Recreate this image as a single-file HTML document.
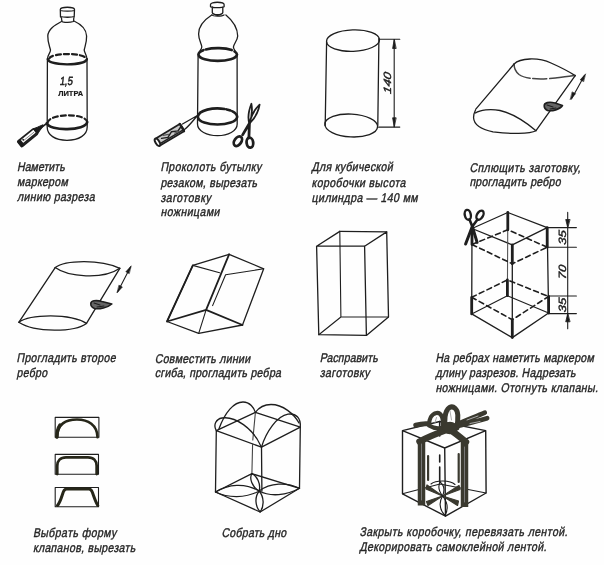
<!DOCTYPE html>
<html><head><meta charset="utf-8">
<style>
html,body{margin:0;padding:0;background:#fff;}
body{width:604px;height:565px;overflow:hidden;}
svg{display:block;filter:blur(0.35px);}
.t text{font-family:"Liberation Sans",sans-serif;font-size:12.6px;fill:#262626;stroke:#262626;stroke-width:0.4px;}
.d *{fill:none;stroke:#1e1e1e;stroke-width:1.3;stroke-linecap:round;stroke-linejoin:round;}
.d .f{fill:#1a1a1a;}
.d .rb *{stroke:#3a392f;}
.d .rb .f{fill:#3a392f;}
.d .th{stroke-width:2.6;}
.d .tn{stroke-width:1.1;}
.d .ds{stroke-dasharray:4 2.5;}
.d text{font-family:"Liberation Sans",sans-serif;font-style:italic;fill:#1a1a1a;stroke:#1a1a1a;stroke-width:0.4;}
</style></head>
<body>
<svg width="604" height="565" viewBox="0 0 604 565">
<rect width="604" height="565" fill="#fefefe"/>
<g class="t">
<text transform="translate(17,171.4) skewX(-11) scale(0.84,1)" textLength="56.8" lengthAdjust="spacing">Наметить</text>
<text transform="translate(17,185.8) skewX(-11) scale(0.84,1)" textLength="60.4" lengthAdjust="spacing">маркером</text>
<text transform="translate(17,200.7) skewX(-11) scale(0.84,1)" textLength="92.3" lengthAdjust="spacing">линию разреза</text>
<text transform="translate(160.4,171) skewX(-11) scale(0.84,1)" textLength="120.1" lengthAdjust="spacing">Проколоть бутылку</text>
<text transform="translate(160.4,186.7) skewX(-11) scale(0.84,1)" textLength="115.1" lengthAdjust="spacing">резаком, вырезать</text>
<text transform="translate(160.4,201.8) skewX(-11) scale(0.84,1)" textLength="59.9" lengthAdjust="spacing">заготовку</text>
<text transform="translate(160.4,216.3) skewX(-11) scale(0.84,1)" textLength="70.4" lengthAdjust="spacing">ножницами</text>
<text transform="translate(311.6,171) skewX(-11) scale(0.84,1)" textLength="96.5" lengthAdjust="spacing">Для кубической</text>
<text transform="translate(311.6,186.6) skewX(-11) scale(0.84,1)" textLength="111.7" lengthAdjust="spacing">коробочки высота</text>
<text transform="translate(311.6,201.8) skewX(-11) scale(0.84,1)" textLength="126.2" lengthAdjust="spacing">цилиндра — 140 мм</text>
<text transform="translate(469.4,171.8) skewX(-11) scale(0.84,1)" textLength="132.1" lengthAdjust="spacing">Сплющить заготовку,</text>
<text transform="translate(469.4,186) skewX(-11) scale(0.84,1)" textLength="108.5" lengthAdjust="spacing">прогладить ребро</text>
<text transform="translate(16.5,362) skewX(-11) scale(0.84,1)" textLength="117.9" lengthAdjust="spacing">Прогладить второе</text>
<text transform="translate(16.5,377) skewX(-11) scale(0.84,1)" textLength="36.4" lengthAdjust="spacing">ребро</text>
<text transform="translate(154.8,362.6) skewX(-11) scale(0.84,1)" textLength="113.6" lengthAdjust="spacing">Совместить линии</text>
<text transform="translate(154.8,377.2) skewX(-11) scale(0.84,1)" textLength="150.2" lengthAdjust="spacing">сгиба, прогладить ребра</text>
<text transform="translate(319.7,362) skewX(-11) scale(0.84,1)" textLength="69.2" lengthAdjust="spacing">Расправить</text>
<text transform="translate(319.7,376.5) skewX(-11) scale(0.84,1)" textLength="59.4" lengthAdjust="spacing">заготовку</text>
<text transform="translate(435.4,362) skewX(-11) scale(0.84,1)" textLength="188.5" lengthAdjust="spacing">На ребрах наметить маркером</text>
<text transform="translate(435.4,376.6) skewX(-11) scale(0.84,1)" textLength="166.9" lengthAdjust="spacing">длину разрезов. Надрезать</text>
<text transform="translate(435.4,392.2) skewX(-11) scale(0.84,1)" textLength="193.5" lengthAdjust="spacing">ножницами. Отогнуть клапаны.</text>
<text transform="translate(32.9,537.4) skewX(-11) scale(0.84,1)" textLength="99.4" lengthAdjust="spacing">Выбрать форму</text>
<text transform="translate(32.9,551.7) skewX(-11) scale(0.84,1)" textLength="121.8" lengthAdjust="spacing">клапанов, вырезать</text>
<text transform="translate(221.5,536.5) skewX(-11) scale(0.84,1)" textLength="76.9" lengthAdjust="spacing">Собрать дно</text>
<text transform="translate(359.5,535.5) skewX(-11) scale(0.84,1)" textLength="247.5" lengthAdjust="spacing">Закрыть коробочку, перевязать лентой.</text>
<text transform="translate(359.5,550.8) skewX(-11) scale(0.84,1)" textLength="222.6" lengthAdjust="spacing">Декорировать самоклейной лентой.</text>
</g>
<g class="d">
<!-- P1 bottle -->
<path d="M61.5,21.5 C55,25 48,29 47.8,36 C47.6,42 49.5,46 50.5,50 C50.5,53 47.6,55 47.4,59 L47.2,127 C47.2,135 55,140.3 67,140.3 C79,140.3 87.2,135 87.2,127 L87,59 C86.8,55 84.3,52.5 84.2,50 C85,46 86.8,42 86.6,36 C86.3,29 80.5,24 74,21"/>
<path d="M60.5,17 L60.3,9.5 C60.5,6.5 74.3,6.5 74.5,9.5 L74.2,17 M60.5,10.5 C63,11.3 72,11.3 74.4,10.5 M60.5,16.5 C63,17.5 72,17.5 74.2,16.5 M61.5,18 C61.5,20 62,21.5 62.5,21.8 C66,22.5 70,22.5 73.5,21.5 L73.8,18"/>
<path d="M49.1,58.7 C51,52.5 84,52.5 86.4,58.7" style="stroke-width:2.2;stroke-dasharray:5 3"/>
<path d="M47.7,59.1 C49,66 85,66 86.9,59.1" style="stroke-width:2.3"/>
<path class="ds" d="M47.5,123 C49,113 86,113 87.2,122" style="stroke-width:2.1;stroke-dasharray:5 3"/>
<path class="th" d="M46.8,123.2 C49,131.5 86,131 87.2,122"/>
<text transform="translate(59.4,85.2) skewX(-8)" style="font-size:11.8px;font-style:normal;stroke-width:0.55" textLength="13" lengthAdjust="spacingAndGlyphs">1,5</text>
<text transform="translate(58.2,95.5)" style="font-size:7.6px;font-weight:bold;font-style:normal;stroke-width:0.2" textLength="25" lengthAdjust="spacingAndGlyphs">ЛИТРА</text>
<path d="M46.5,123.6 L38.5,129.5" style="stroke-width:1.8"/>
<g transform="translate(28.6,136.9) rotate(-39)">
<rect x="-11.5" y="-3.3" width="20.5" height="6.6" rx="0.8" style="stroke-width:1.8;fill:#fff"/>
<path d="M-10.5,2 L8,2" style="stroke-width:1.6"/>
<path d="M-6,-0.3 L7,-0.3" style="stroke:#777;stroke-width:0.8"/>
<path class="f" d="M-11.5,-3.3 L-8.5,-3.3 L-8.5,3.3 L-11.5,3.3 Z" style="stroke-width:1"/>
<circle cx="-6" cy="-1.2" r="0.9" class="f" style="stroke:none"/>
<path class="f" d="M9,-3.2 L13,-2 L18.5,-0.5 L18.5,0.5 L13,2 L9,3.2 Z" style="stroke-width:1"/>
</g>

<!-- P2 bottle -->
<path d="M211.7,15 C204,20 198.5,27 198.6,34 C198.6,40 201.8,44 201.8,47 C201.5,50 198.1,52 198.1,56 L197.5,124 C197.5,131 207,135.7 217.5,135.7 C228,135.7 237.2,131 237.2,124 L237.1,56 C237,52 233.5,50 233.4,47 C233.6,44 237.7,40 237.7,36 C237.5,28 232,20 225.9,15"/>
<path d="M212.3,7 L212.3,12.5 C213,15.5 222,15.5 222.8,12.5 L222.8,7 M210.5,4.5 C210.5,1.5 224.1,1.5 224.1,4.5 L224.1,6.8 C222,8 212.5,8 210.5,6.8 Z M212,15 C213,16.5 222,16.5 224,15"/>
<path class="th" d="M198.4,54.5 C199.5,46 236,46 237,54.5 C236,63 199.5,63 198.4,54.5" style="stroke-dasharray:7 2.5 26 3 200"/>
<path class="th" d="M197.8,116.8 C199,105.7 236,105.7 237.2,116.8 C236,127.1 199,127.1 197.8,116.8" style="stroke-dasharray:30 2 4 2 200"/>
<!-- knife -->
<path d="M197.4,115.5 L182.5,124 M197.4,115.5 C193,121 189,126 184.5,129.5" style="stroke-width:1.3"/>
<g transform="translate(169.9,134.8) rotate(-31)">
<rect x="-14.5" y="-4.2" width="29" height="8.4" rx="1" style="stroke-width:1.8;fill:#c8c8c8"/>
<path d="M-12,2.6 L13,2.6 M-9,-1.2 L-3,1.2 L3,-1.8 L9,0.8 L13,-1" style="stroke-width:1.4"/>
<path d="M-6,-3 L-1,-1 M5,1 L10,2" style="stroke-width:1.2;stroke:#555"/>
<ellipse cx="-14.5" cy="0" rx="1.9" ry="4.2" style="fill:#fff;stroke-width:2"/>
<path d="M14,-4.2 L14,4.2" style="stroke-width:2.2"/>
</g>
<!-- scissors -->
<path d="M249.4,123.5 C247.5,118 249,110 251.4,103.8 C252.5,110 251.5,118 249.4,123.5 M249.4,123.5 C251,116 255,109 259.6,104.7 C258.5,112 254,119 249.4,123.5" style="stroke-width:1.8"/>
<path d="M249.4,123.5 L242.6,134.9 M249.4,123.5 L248.9,137.8" style="stroke-width:2.8"/>
<ellipse cx="237.9" cy="141.2" rx="3.4" ry="5.3" transform="rotate(35 237.9 141.2)" style="stroke-width:2.8"/>
<ellipse cx="249.9" cy="142.7" rx="3.3" ry="5" transform="rotate(-8 249.9 142.7)" style="stroke-width:2.8"/>
<!-- P3 cylinder -->
<ellipse cx="353" cy="40.6" rx="26.5" ry="10.7" transform="rotate(-2 353 40.6)"/>
<path d="M326.6,42 L325.2,125.5 M378.9,38.5 L377.8,125.5"/>
<ellipse cx="351.2" cy="125.5" rx="26.4" ry="11.4" transform="rotate(3 351.2 125.5)"/>
<path class="tn" d="M379.3,39.3 L399.8,39.3 M378.5,127.1 L399.8,127.1 M394.2,40 L394.2,126.5"/>
<path class="f" style="stroke-width:0.8" d="M394.2,39.5 L392.6,48.5 L395.8,48.5 Z M394.2,126.8 L392.6,117.8 L395.8,117.8 Z"/>
<text transform="translate(391.4,94.2) rotate(-90) skewX(-12)" style="font-size:10.5px" textLength="21.4" lengthAdjust="spacingAndGlyphs">140</text>

<!-- P4 flattened -->
<path d="M514.1,64 C520,58 538,57 551,63 C560,67 568,71 575.2,75.6"/>
<path d="M514.1,64 C514,69 516,72 519,74.5 C525,79 540,80 555.4,78 C563,77 570,76 575.2,75.6" style="stroke:#444;stroke-width:1.5;stroke-dasharray:24 2.5 14 3 100"/>
<path d="M514.1,64 L475.8,109.2 M575.2,75.6 L536,130.7"/>
<path d="M475.5,110 C474,113 473.5,116 473.6,118 C474,125 480,129 493,131.8 C510,134 530,134 536,130.7 C528,124 515,114 500,110.5 C490,108.5 480,110 475.5,113"/>
<path class="tn" d="M584.5,75.5 L571.5,99"/>
<path class="f" style="stroke-width:0.6" d="M585.4,74.1 L580.2,79.8 L583.4,81.5 Z M570.4,99.4 L575.6,93.7 L572.4,92 Z"/>
<path d="M544.2,106 C544,102.5 549,101.5 555,103 L562.5,105.5 C560,109.5 552,111.5 547.5,110.5 C545.5,109.5 544.2,108 544.2,106 Z" style="fill:#666;stroke-width:1.6"/>
<path d="M547,105 L553,107 M550,109 L556,108" style="stroke-width:1.1"/>

<!-- P5 flattened 2 -->
<path d="M55.2,267.6 C65,260 100,259 119.8,268.3"/>
<path d="M55.2,267.6 C68,277 103,280 119.8,268.3"/>
<path d="M55.2,267.6 L18.8,322.3 M119.8,268.3 L86.5,323.4"/>
<path d="M18.8,322.3 C30,314 70,313 86.5,323.4 C75,332 35,333 18.8,322.3 Z"/>
<path class="tn" d="M130.5,267 L117.7,291.8"/>
<path class="f" style="stroke-width:0.6" d="M131,266.1 L125.8,271.8 L129,273.5 Z M117.2,292.7 L122.4,287 L119.2,285.3 Z"/>
<path d="M90.8,304 C90.5,300.5 96,299.8 102,301.5 L111.8,304 C108,307.5 99,309.5 94.5,308.5 C92,307.5 90.8,306 90.8,304 Z" style="fill:#666;stroke-width:1.6"/>
<path d="M94,303 L100,305 M97,307 L104,306" style="stroke-width:1.1"/>

<!-- P6 rhombus box -->
<path d="M192.8,265.4 L229.1,254.3 L263.7,268.8 L242.5,325 L198.7,333.4 L167,321.5 Z"/>
<path d="M229.1,254.3 L206.1,309.9 L167,321.5 M206.1,309.9 L242.5,325 M192.8,265.4 L167,321.5" style="stroke-width:1.8"/>
<path class="tn" d="M192.8,265.4 L219.6,272.8 M263.7,268.8 L225.6,274.8 L212.6,305.6 M206.1,309.9 L198.7,333.4"/>

<!-- P7 box -->
<g transform="translate(0,0.8)">
<path d="M316.6,245.4 L364.6,245.4 L366.4,334.6 L318.8,333.9 Z M364.6,245.4 L386.7,231.1 L388.5,316.2 L366.4,334.6 M316.6,245.4 L339.8,230.6"/>
<path class="tn" d="M339.8,230.6 L386.7,231.1" style="stroke-width:1.3"/>
<path class="tn" d="M339.8,230.6 L340.9,316.2 L318.8,333.9 M340.9,316.2 L388.5,316.2"/>
</g>
<!-- P8 box with dims -->
<path d="M507.8,212.5 L472,228.5 L512.3,244.9 L547.2,227.6 Z M472,228.5 L471.7,313.9 L512.3,337.6 L548.6,313 L547.2,227.6 M512.3,244.9 L512.3,337.6"/>
<path class="tn" d="M507.8,212.5 L507.4,295.7" style="stroke:#555"/>
<path class="tn" d="M471.7,313.9 L507.4,295.7 L548.6,313"/>
<path class="ds" d="M472,244.5 L512.3,263.8 L547.2,247.2 M472,244.5 L507.8,229.8 L547.2,247.2 M471.7,297.3 L512.3,319.7 L548.6,296.5 M471.7,297.3 L507.4,279.9 L548.6,296.5" style="stroke-dasharray:5 3.5;stroke-width:1.6"/>
<path class="th" d="M472,228.5 L472,244.5 M512.3,244.9 L512.3,263.8 M547.2,227.6 L547.2,247.2 M507.8,212.5 L507.8,229.8 M471.7,297.3 L471.7,313.9 M512.3,319.7 L512.3,337.6 M548.6,296.5 L548.6,313 M507.4,279.9 L507.4,295.7" style="stroke-width:2.8"/>
<path class="tn" d="M547.5,227.6 L576.4,227.6 M547.5,247.2 L576.4,247.2 M548.6,296 L576.4,296 M548.6,313.6 L576.4,313.6 M567.7,212.4 L567.7,328.8"/>
<path class="f" style="stroke-width:0.8" d="M567.7,227.6 L565.7,219.5 L569.7,219.5 Z M567.7,313.6 L565.7,321.8 L569.7,321.8 Z"/>
<text transform="translate(566,245) rotate(-90) skewX(-5)" style="font-size:10.5px" textLength="14.5" lengthAdjust="spacingAndGlyphs">35</text>
<text transform="translate(566,279.5) rotate(-90) skewX(-5)" style="font-size:10.5px" textLength="14.5" lengthAdjust="spacingAndGlyphs">70</text>
<text transform="translate(566,312.5) rotate(-90) skewX(-5)" style="font-size:10.5px" textLength="14.5" lengthAdjust="spacingAndGlyphs">35</text>
<!-- small scissors -->
<ellipse cx="467.8" cy="214.8" rx="3" ry="5" transform="rotate(-12 467.8 214.8)" style="stroke-width:2.4"/>
<ellipse cx="480" cy="215.2" rx="3" ry="5" transform="rotate(30 480 215.2)" style="stroke-width:2.4"/>
<path d="M469.5,219.5 L472.3,226.5 M477.5,219.5 L472.3,226.5" style="stroke-width:2.6"/>
<path d="M472.3,226.5 L465.6,244 M472.3,226.5 L477.1,242.4" style="stroke-width:3"/>
<!-- P9 flaps -->
<path class="tn" d="M55.2,417.4 L98.9,417.4 L98.9,437.3 L55.2,437.3 Z"/>
<path d="M57.2,437.2 C57,424 66,419.5 77,419.5 C88,419.5 97.3,425 97.5,437.2" style="stroke:#262619;stroke-width:2.6"/>
<path d="M56.8,437 C57,431 58,428 60,425" style="stroke:#262619;stroke-width:3.4"/>
<path class="tn" d="M55.2,454.4 L98.5,454.4 L98.5,474.3 L55.2,474.3 Z"/>
<path d="M57.2,474 L57.2,466 C57.2,461 60.5,457.4 66,457.4 L88,457.4 C93.5,457.4 96.7,461 96.7,466 L96.7,474" style="stroke:#262619;stroke-width:2.8"/>
<path class="tn" d="M55.2,487.5 L98.5,487.5 L98.5,506.8 L55.2,506.8 Z"/>
<path d="M57.5,505.5 C61,501 62,495 63.5,491.5 C64.2,489.8 65,488.9 66.5,488.9 L89,488.9 C90.5,488.9 91.3,489.8 92,491.5 C93.5,495 95,501 97.8,505.5" style="stroke:#262619;stroke-width:3"/>

<!-- P10 box with dome -->
<path d="M216.3,430.6 L255.4,412.4 L300.3,427.2 L261.5,447.2 Z M216.3,430.6 L215.5,492 L260.1,512 L299.5,488.3 L300.3,427.2 M261.5,447.2 L261.9,491"/>
<path class="tn" d="M255.4,412.4 L252.8,440 M252.6,444 L251.9,473.7" style="stroke:#444"/>
<path d="M215.5,492 L251.9,473.7 L299.5,488.3" style="stroke-width:1.3"/>
<path d="M218.9,429 C225,412 234,402 243,402 C250,402 254,408 255.4,412.4"/>
<path d="M255.4,412.4 C260,406 266,404.5 271,404.5 C283,404.5 294,414 299,423"/>
<path d="M216.3,430.6 C213,425 216,419 222,418 C235,416 253,428 261.5,447.2"/>
<path d="M261.5,447.2 C266,432 277,416 288,414.2 C296,413 301,418 300.3,427.2"/>
<g style="stroke-width:1.4">
<path d="M259.2,491 C245,482.5 228,484 215.5,492 C228,498 245,498.5 259.2,491 Z"/>
<path d="M259.2,491 C270,482.5 287,482 299.5,488.3 C287,495.5 270,497 259.2,491 Z"/>
<path d="M259.2,491 C252,487 249,478 251.9,473.7 C257,476 261,484 259.2,491 Z"/>
<path d="M259.2,491 C254.5,497 255,506 260.1,512 C264.5,506 264,497 259.2,491 Z"/>
</g>

<!-- P11 gift -->
<path d="M402.5,430.6 L439.7,421.5 L485.7,430.6 L444.7,448 Z M402.5,430.6 L402.5,493.8 L445.5,516.2 L486.1,493 L485.7,430.6 M444.7,448 L445.5,516.2" style="stroke-width:1.4"/>
<path class="tn" d="M402.5,493.8 L440,484 L486.1,493"/>
<path class="tn" d="M439.7,421.5 L439.7,436 M439.7,455 L439.7,462 M439.7,467 L439.7,482" style="stroke-width:1.6"/>
<g class="rb">
<path d="M421.5,439 L421.5,505.5" style="stroke-width:7.5;stroke-linecap:butt"/>
<path d="M464.5,441 L464.5,507" style="stroke-width:7.5;stroke-linecap:butt"/>
<path d="M419.5,441.5 C428,437 438,433 449,429 M466,442 C460,437 455,433 449,429" style="stroke-width:6.5"/>
<path d="M415.8,425.2 C420,424 424,423.5 428,423.8" style="stroke-width:5"/>
<path d="M429,425.5 C429,419 431.5,413.8 436.5,413 C441.5,412.5 443.5,418 443,427.5 C438,429 433,428 429,425.5 Z" style="stroke-width:4.2"/>
<path d="M445.5,429 C444,421 444.5,411 449.5,407.5 C453.5,405.5 457.5,409 457.8,415 C458,420 457.5,424 457,428 C453,430 449,430 445.5,429 Z" style="stroke-width:5"/>
<path d="M457.5,424 C466,420 476,416.5 484.8,412.6 M458,426 C468,423.5 478,421 487.2,418.2" style="stroke-width:4.6"/>
<ellipse class="f" cx="450" cy="428" rx="7" ry="5.5"/>
<path d="M428.1,456 L428.1,480 M458.7,454 L458.7,482" style="stroke-width:2.2"/>
<path class="f" d="M442.5,496 L427,485 L426,489 Z M442.5,496 L459,485.5 L460,489.5 Z M442.5,496 L426.5,501.5 L428,505.5 Z M442.5,496 L458.5,501 L457.5,505.5 Z" style="stroke-width:1.2"/>
</g>
<path d="M421.5,444 L421.5,500 M464.5,447 L464.5,502" style="stroke:#777;stroke-width:1"/>
<path d="M436.5,417.5 L435,422.5 M450,411 L451.5,420 M467,420 L478,416 M470,423.5 L480,421.5" style="stroke:#aaa;stroke-width:1"/>
<path class="tn" d="M442.5,496 C438.5,503 440,510 445,515.6 C448.5,509 447.5,502 442.5,496 C438,490 438.5,485 440,482 C444,485 445,490 442.5,496 M431,484 C436,480 450,480 455,484.5"/>

</g>
</svg>
</body></html>
